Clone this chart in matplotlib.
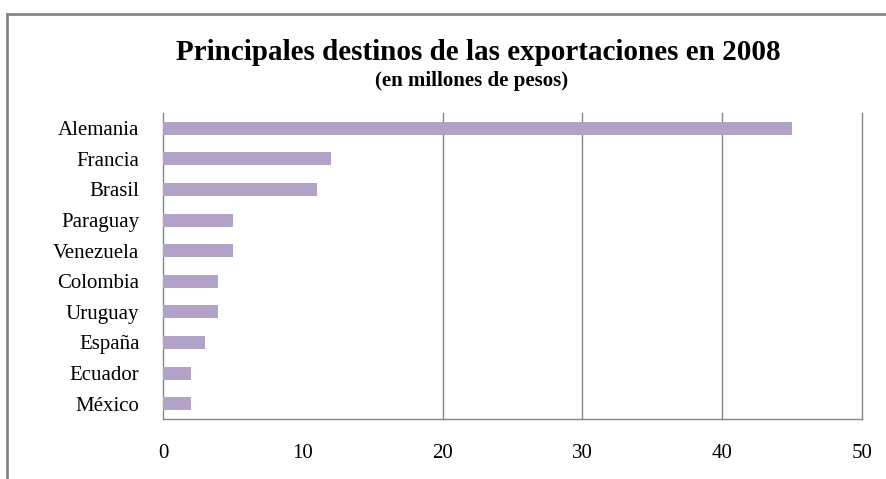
import numpy as np
import matplotlib.pyplot as plt
from matplotlib.patches import Rectangle

paises = ["Alemania", "Francia", "Brasil", "Paraguay", "Venezuela",
          "Colombia", "Uruguay", "España", "Ecuador", "México"]
valores = [45, 12, 11, 5, 5, 3.9, 3.9, 3, 2, 2]
xticks = [0, 10, 20, 30, 40, 50]

plt.rcParams['font.family'] = ['Liberation Serif', 'DejaVu Serif']

fig = plt.figure(figsize=(8.86, 4.79), dpi=100)
ax = fig.add_axes([163/886, 1-419/479, (862-163)/886, (419-113)/479])

y = np.arange(len(paises))
ax.barh(y, valores, height=0.42, color="#b3a2c7", zorder=3)
ax.set_ylim(len(paises)-0.5, -0.5)
ax.set_xlim(0, 50)
ax.set_yticks(y)
ax.set_yticklabels(paises, fontsize=15)
ax.set_xticks(xticks)
ax.set_xticklabels([str(t) for t in xticks], fontsize=15)
ax.tick_params(axis="y", length=0, pad=17)
ax.tick_params(axis="x", length=0, pad=18)

for t in [20, 30, 40, 50]:
    ax.axvline(t, color="#868686", lw=1, zorder=1, clip_on=False)

for s in ["top", "right"]:
    ax.spines[s].set_visible(False)
for s in ["left", "bottom"]:
    ax.spines[s].set_color("#868686")
    ax.spines[s].set_linewidth(1)

# outer chart border
fig.patches.append(Rectangle((7/886, -0.1), 1.2, 1 - 14/479 + 0.1,
                             transform=fig.transFigure, fill=False,
                             edgecolor="#868686", lw=2))

fig.text(478/886, 1-53/479, "Principales destinos de las exportaciones en 2008",
         ha="center", va="center", fontsize=21, fontweight="bold")
fig.text(472/886, 1-81/479, "(en millones de pesos)",
         ha="center", va="center", fontsize=15, fontweight="bold")

plt.savefig("out.png", dpi=100)
